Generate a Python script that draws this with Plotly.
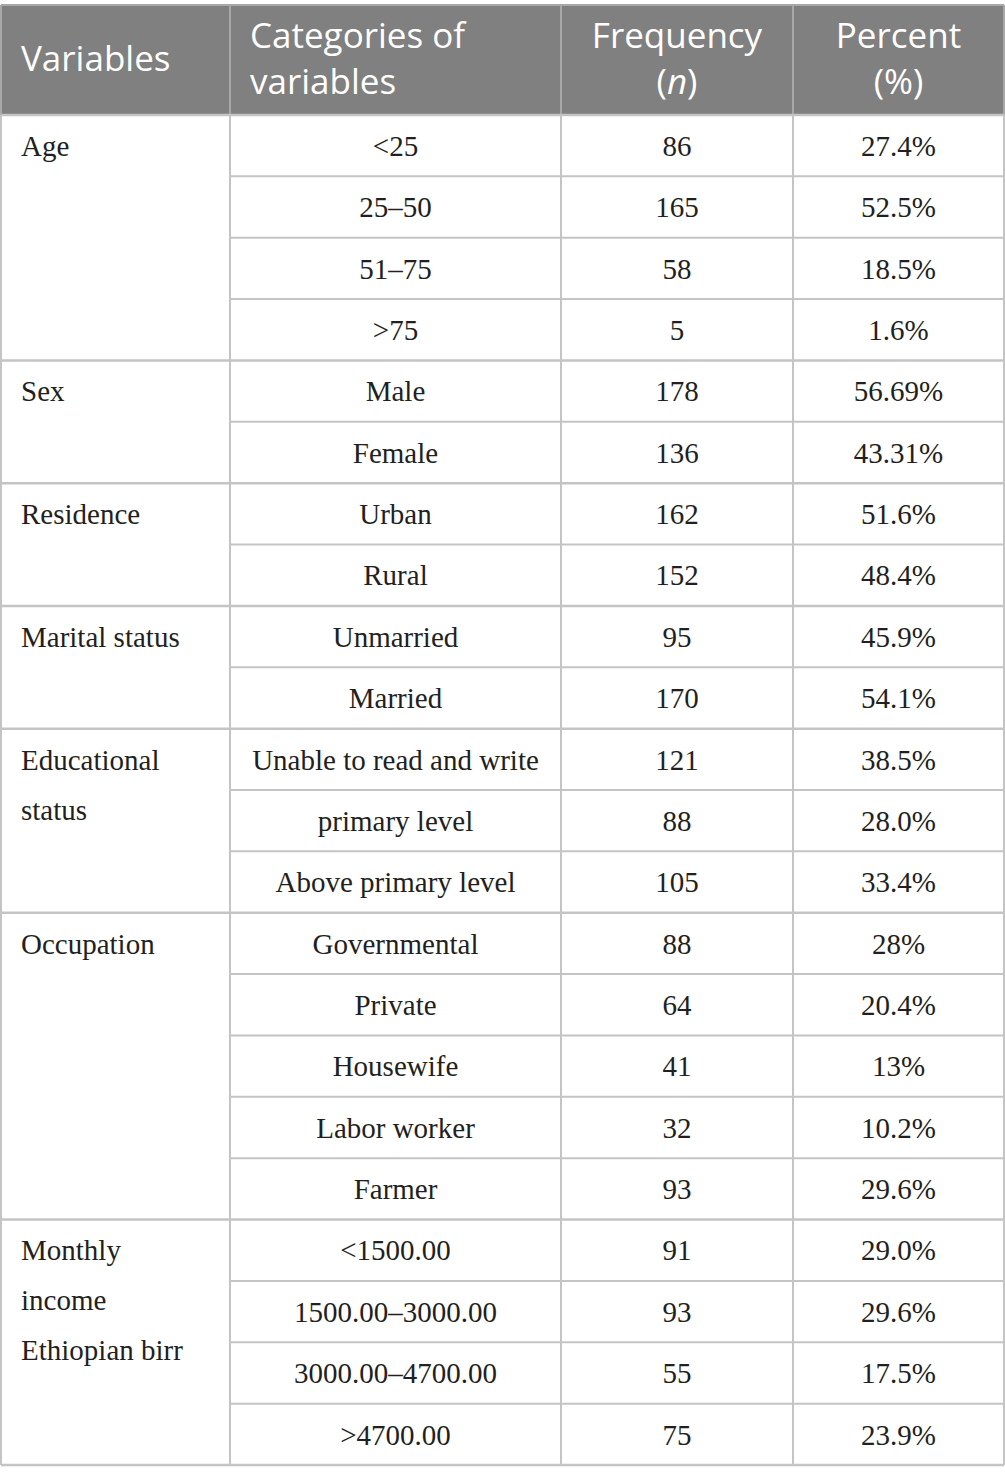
import plotly.graph_objects as go

# ---- data ----
header_labels = ["Variables", "Categories of<br>variables", "Frequency<br>(<i>n</i>)", "Percent<br>(%)"]
variables = ["Age", "Sex", "Residence", "Marital status", "Educational<br>status",
             "Occupation", "Monthly<br>income<br>Ethiopian birr"]
group_sizes = [4, 2, 2, 2, 3, 5, 4]
categories = ["<25", "25–50", "51–75", ">75",
              "Male", "Female",
              "Urban", "Rural",
              "Unmarried", "Married",
              "Unable to read and write", "primary level", "Above primary level",
              "Governmental", "Private", "Housewife", "Labor worker", "Farmer",
              "<1500.00", "1500.00–3000.00", "3000.00–4700.00", ">4700.00"]
frequency = [86, 165, 58, 5, 178, 136, 162, 152, 95, 170, 121, 88, 105,
             88, 64, 41, 32, 93, 91, 93, 55, 75]
percent = ["27.4%", "52.5%", "18.5%", "1.6%", "56.69%", "43.31%", "51.6%", "48.4%",
           "45.9%", "54.1%", "38.5%", "28.0%", "33.4%", "28%", "20.4%", "13%",
           "10.2%", "29.6%", "29.0%", "29.6%", "17.5%", "23.9%"]

# ---- layout geometry (styling) ----
W, H = 1005, 1480
X_LEFT, X_RIGHT = 1, 1004
COL_X = [X_LEFT, 230, 561, 793, X_RIGHT]
Y_TOP, HEAD_BOT, Y_BOT = 5, 115, 1465
n_rows = len(categories)
row_h = (Y_BOT - HEAD_BOT) / n_rows
LINE_SPACING_VAR = 50
TEXT_DY = 3

HEADER_BG = "#7f807f"
GRID = "#c4c4c4"
HEAD_SEP = "#a8a8a8"
body_font = dict(family="Liberation Serif", size=29, color="#231f20")
head_font = dict(family="Open Sans", size=35, color="white")

def row_center(i):
    return HEAD_BOT + (i + 0.5) * row_h + TEXT_DY

fig = go.Figure()
shapes = []

# header background
shapes.append(dict(type="rect", x0=X_LEFT, x1=X_RIGHT, y0=Y_TOP, y1=HEAD_BOT,
                   fillcolor=HEADER_BG, line=dict(width=0), layer="below"))
# header separators
for cx in COL_X[1:-1]:
    shapes.append(dict(type="line", x0=cx, x1=cx, y0=Y_TOP, y1=HEAD_BOT,
                       line=dict(color=HEAD_SEP, width=2)))
# body vertical lines
for cx in COL_X:
    shapes.append(dict(type="line", x0=cx, x1=cx, y0=HEAD_BOT, y1=Y_BOT,
                       line=dict(color=GRID, width=2)))
# outer top and sides of header
shapes.append(dict(type="line", x0=X_LEFT, x1=X_RIGHT, y0=Y_TOP, y1=Y_TOP,
                   line=dict(color=HEAD_SEP, width=2)))
for cx in (X_LEFT, X_RIGHT):
    shapes.append(dict(type="line", x0=cx, x1=cx, y0=Y_TOP, y1=HEAD_BOT,
                       line=dict(color=HEAD_SEP, width=2)))

# horizontal lines
group_starts = []
acc = 0
for g in group_sizes:
    group_starts.append(acc)
    acc += g
boundaries = set(group_starts[1:]) | {0, n_rows}
for i in range(n_rows + 1):
    y = HEAD_BOT + i * row_h
    if i in boundaries:
        shapes.append(dict(type="line", x0=X_LEFT, x1=X_RIGHT, y0=y, y1=y,
                           line=dict(color=GRID, width=2.5)))
    else:
        shapes.append(dict(type="line", x0=COL_X[1], x1=X_RIGHT, y0=y, y1=y,
                           line=dict(color=GRID, width=2)))

# header text (one multi-line text per column)
head_mid = (Y_TOP + HEAD_BOT) / 2 + 2
for c, lab in enumerate(header_labels):
    if c < 2:
        x = COL_X[c] + 20
        pos = "middle right"
    else:
        x = (COL_X[c] + COL_X[c + 1]) / 2
        pos = "middle center"
    fig.add_trace(go.Scatter(x=[x], y=[head_mid], text=[lab], mode="text",
                             textposition=pos, textfont=head_font,
                             hoverinfo="skip", showlegend=False))

# variable names (first column)
vx, vy, vt = [], [], []
for name, start in zip(variables, group_starts):
    for k, part in enumerate(name.split("<br>")):
        vx.append(COL_X[0] + 20)
        vy.append(row_center(start) + k * LINE_SPACING_VAR)
        vt.append(part)
fig.add_trace(go.Scatter(x=vx, y=vy, text=vt, mode="text", textposition="middle right",
                         textfont=body_font, hoverinfo="skip", showlegend=False))

# body columns
ys = [row_center(i) for i in range(n_rows)]
for c, vals in zip([1, 2, 3], [categories, [str(v) for v in frequency], percent]):
    x = (COL_X[c] + COL_X[c + 1]) / 2
    fig.add_trace(go.Scatter(x=[x] * n_rows, y=ys, text=vals, mode="text",
                             textposition="middle center", textfont=body_font,
                             hoverinfo="skip", showlegend=False))

fig.update_layout(
    width=W, height=H, margin=dict(l=0, r=0, t=0, b=0),
    paper_bgcolor="white", plot_bgcolor="white",
    shapes=shapes,
    xaxis=dict(range=[0, W], visible=False, fixedrange=True),
    yaxis=dict(range=[H, 0], visible=False, fixedrange=True),
)
fig.write_html(
    "out.html",
    config={"displayModeBar": False},
    post_script="document.body.style.margin='0';document.body.style.overflow='hidden';",
)
